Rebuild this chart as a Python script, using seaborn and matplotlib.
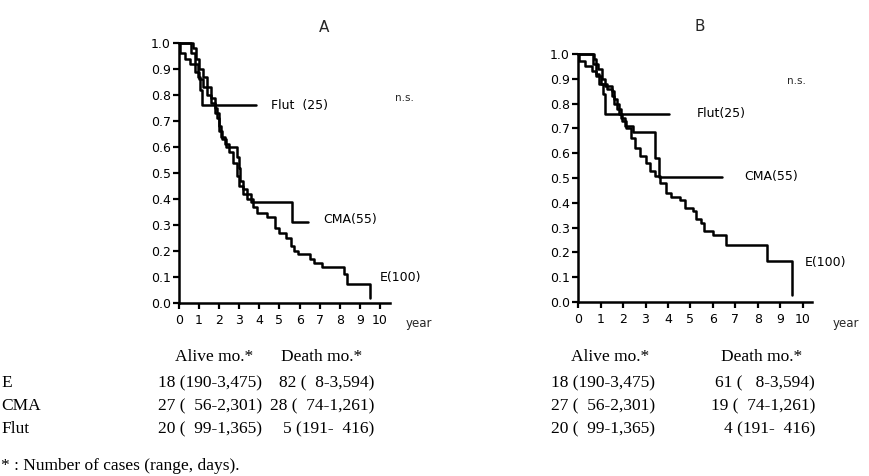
import numpy as np
import pandas as pd
import matplotlib
matplotlib.use("Agg")
import matplotlib.pyplot as plt
import seaborn as sns

# ---- survival curves, panel A (years, survival fraction) ----
a_e_years = [0, 0.05, 0.3, 0.55, 0.8, 1.0, 1.2, 1.4, 1.6, 1.8, 2.0, 2.1, 2.3, 2.5, 2.7, 2.9,
             3.0, 3.2, 3.4, 3.7, 3.9, 4.4, 4.8, 5.0, 5.3, 5.55, 5.7, 5.9, 6.5, 6.7, 7.1, 8.2,
             8.35, 9.5]
a_e_surv = [1.0, 0.96, 0.94, 0.92, 0.89, 0.86, 0.83, 0.80, 0.77, 0.73, 0.68, 0.64, 0.61, 0.58,
            0.54, 0.49, 0.45, 0.42, 0.40, 0.37, 0.345, 0.33, 0.29, 0.27, 0.25, 0.22, 0.20,
            0.19, 0.17, 0.155, 0.14, 0.11, 0.075, 0.02]
a_cma_years = [0, 0.7, 0.85, 1.0, 1.2, 1.4, 1.6, 1.8, 1.9, 2.0, 2.15, 2.35, 2.9, 3.0, 3.05,
               3.2, 3.4, 3.6, 5.6, 6.4]
a_cma_surv = [1.0, 0.98, 0.94, 0.90, 0.87, 0.83, 0.79, 0.75, 0.71, 0.66, 0.63, 0.60, 0.56,
              0.52, 0.47, 0.44, 0.42, 0.39, 0.31, 0.31]
a_flut_years = [0, 0.6, 0.8, 0.95, 1.05, 1.15, 3.85]
a_flut_surv = [1.0, 0.96, 0.92, 0.87, 0.82, 0.76, 0.76]

# ---- survival curves, panel B ----
b_e_years = [0, 0.05, 0.3, 0.6, 0.8, 1.0, 1.3, 1.5, 1.6, 1.8, 1.95, 2.15, 2.35, 2.55, 2.75,
             3.0, 3.2, 3.4, 3.65, 3.9, 4.15, 4.55, 4.75, 5.1, 5.25, 5.45, 5.6, 6.0, 6.6,
             8.4, 9.5]
b_e_surv = [1.0, 0.97, 0.95, 0.93, 0.91, 0.88, 0.86, 0.83, 0.80, 0.76, 0.73, 0.70, 0.66,
            0.62, 0.59, 0.56, 0.53, 0.51, 0.48, 0.44, 0.425, 0.41, 0.38, 0.365, 0.335,
            0.32, 0.285, 0.27, 0.23, 0.165, 0.03]
b_cma_years = [0, 0.7, 0.8, 0.9, 1.05, 1.2, 1.5, 1.6, 1.75, 1.9, 2.1, 2.45, 3.4, 3.6, 6.4]
b_cma_surv = [1.0, 0.98, 0.96, 0.94, 0.90, 0.87, 0.85, 0.82, 0.78, 0.74, 0.71, 0.685,
              0.58, 0.505, 0.505]
b_flut_years = [0, 0.65, 0.8, 0.95, 1.1, 1.2, 4.05]
b_flut_surv = [1.0, 0.96, 0.92, 0.88, 0.84, 0.76, 0.76]

# ---- table text ----
groups = ["E", "CMA", "Flut"]
alive_a = ["18 (190-3,475)", "27 (  56-2,301)", "20 (  99-1,365)"]
death_a = ["82 (  8-3,594)", "28 (  74-1,261)", "5 (191-  416)"]
alive_b = ["18 (190-3,475)", "27 (  56-2,301)", "20 (  99-1,365)"]
death_b = ["61 (   8-3,594)", "19 (  74-1,261)", "4 (191-  416)"]


def make_df(parts):
    frames = []
    for name, yrs, surv in parts:
        frames.append(pd.DataFrame({"year": yrs, "surv": surv, "group": name}))
    return pd.concat(frames, ignore_index=True)


df_a = make_df([("E", a_e_years, a_e_surv), ("CMA", a_cma_years, a_cma_surv),
                ("Flut", a_flut_years, a_flut_surv)])
df_b = make_df([("E", b_e_years, b_e_surv), ("CMA", b_cma_years, b_cma_surv),
                ("Flut", b_flut_years, b_flut_surv)])

sns.set_style("ticks")
plt.rcParams["font.family"] = ["DejaVu Sans"]

W, H = 870, 476
fig = plt.figure(figsize=(W / 100, H / 100), dpi=100)


def frac(x0, y_top, x1, y_bot):
    return [x0 / W, 1 - y_bot / H, (x1 - x0) / W, (y_bot - y_top) / H]


ax_a = fig.add_axes(frac(179, 43, 390, 303))
ax_b = fig.add_axes(frac(578, 54, 812, 302))

black = {"E": "black", "CMA": "black", "Flut": "black"}

for ax, df, xmax in [(ax_a, df_a, 10.5), (ax_b, df_b, 10.4)]:
    sns.lineplot(data=df, x="year", y="surv", hue="group", palette=black,
                 estimator=None, sort=False, drawstyle="steps-post",
                 linewidth=1.8, legend=False, ax=ax)
    for ln in ax.lines:
        ln.set_clip_on(False)
    ax.set_xlim(0, xmax)
    ax.set_ylim(0, 1.0)
    ax.set_xticks(range(0, 11))
    ax.set_yticks(np.arange(0, 1.01, 0.1))
    ax.set_yticklabels([f"{v:.1f}" for v in np.arange(0, 1.01, 0.1)])
    ax.set_xlabel("")
    ax.set_ylabel("")
    sns.despine(ax=ax)
    for s in ["left", "bottom"]:
        ax.spines[s].set_linewidth(1.8)
        ax.spines[s].set_color("black")
    ax.tick_params(axis="both", length=4, width=1.6, color="black",
                   labelsize=9, labelcolor="black")
    ax.tick_params(axis="x", pad=4)
    ax.tick_params(axis="y", pad=2)

# curve labels and panel text
lab = dict(fontsize=9, color="black", va="center", ha="left")
ax_a.text(4.6, 0.76, "Flut  (25)", **lab)
ax_a.text(7.2, 0.32, "CMA(55)", **lab)
ax_a.text(10.0, 0.10, "E(100)", clip_on=False, **lab)
ax_a.text(10.75, 0.79, "n.s.", fontsize=7.5, va="center", ha="left")
ax_a.text(7.2, 1.06, "A", fontsize=11, ha="center", va="center")
ax_a.text(11.3, -0.077, "year", fontsize=8.5, ha="left", va="center")

ax_b.text(5.3, 0.76, "Flut(25)", **lab)
ax_b.text(7.4, 0.505, "CMA(55)", **lab)
ax_b.text(10.1, 0.16, "E(100)", **lab)
ax_b.text(9.3, 0.89, "n.s.", fontsize=7.5, va="center", ha="left")
ax_b.text(5.4, 1.11, "B", fontsize=11, ha="center", va="center")
ax_b.text(11.3, -0.085, "year", fontsize=8.5, ha="left", va="center")

# tables under the plots
serif = dict(family="Liberation Serif", fontsize=12.5, color="black", va="center")


def ftext(x, y, s, **kw):
    fig.text(x / W, 1 - y / H, s, **kw)


ftext(214, 357, "Alive mo.*", ha="center", **serif)
ftext(322, 357, "Death mo.*", ha="center", **serif)
ftext(610, 357, "Alive mo.*", ha="center", **serif)
ftext(762, 357, "Death mo.*", ha="center", **serif)

row_y = [383, 406, 429]
for i, g in enumerate(groups):
    ftext(1, row_y[i], g, ha="left", **serif)
    ftext(262, row_y[i], alive_a[i], ha="right", **serif)
    ftext(374, row_y[i], death_a[i], ha="right", **serif)
    ftext(655, row_y[i], alive_b[i], ha="right", **serif)
    ftext(815, row_y[i], death_b[i], ha="right", **serif)

ftext(1, 466, "* : Number of cases (range, days).", ha="left", **serif)

fig.savefig("out.png", dpi=100)
